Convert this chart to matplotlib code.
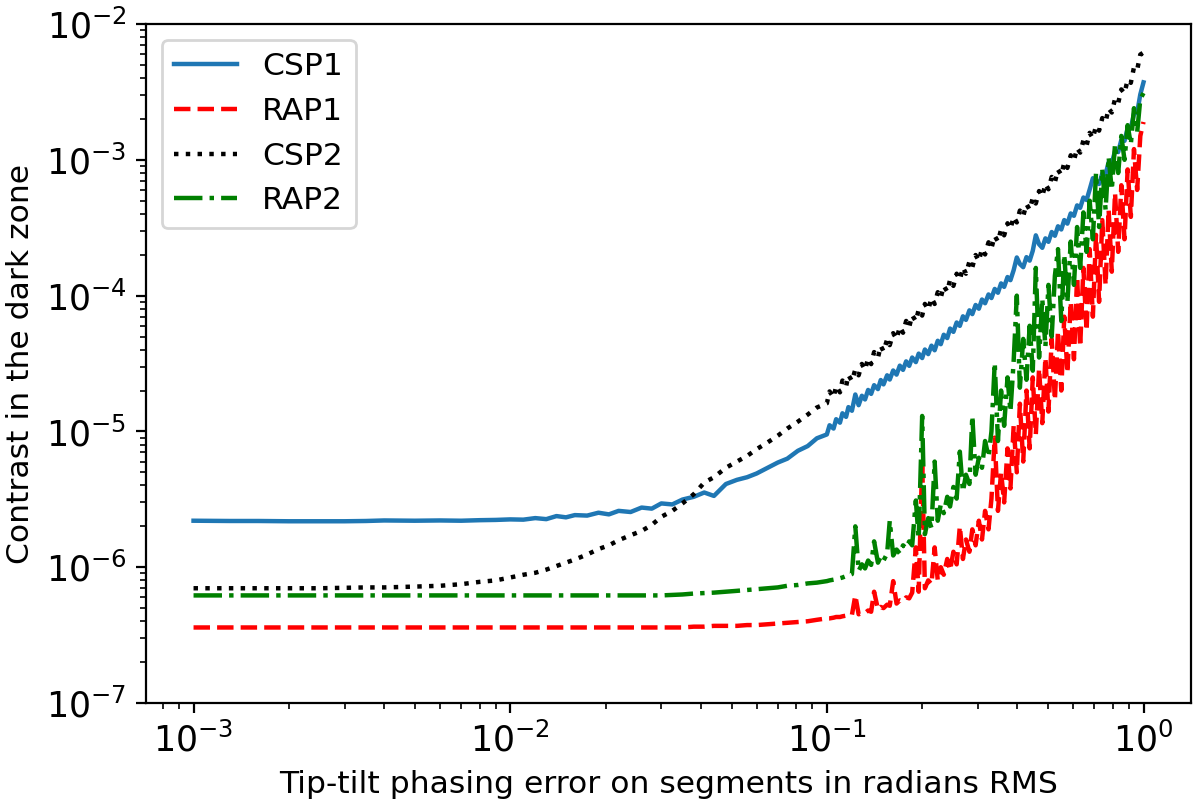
import matplotlib.pyplot as plt

# tip-tilt error (radians RMS), low part: the curves are nearly flat here
x_flat = [0.001, 0.0013, 0.0016, 0.002, 0.0025, 0.003, 0.0035, 0.004, 0.005, 0.006,
          0.007, 0.008, 0.009, 0.010, 0.011, 0.012, 0.013, 0.014, 0.015, 0.016,
          0.0175, 0.019, 0.0205, 0.022, 0.024, 0.026, 0.028, 0.030, 0.0325, 0.035,
          0.038, 0.041, 0.044, 0.048, 0.052, 0.056, 0.060, 0.065, 0.070, 0.075,
          0.081, 0.087, 0.093]
# high part, sampled finer because the curves get noisy
x_steep = [0.100, 0.102, 0.105, 0.107, 0.110, 0.112, 0.115, 0.117, 0.120, 0.123,
           0.126, 0.129, 0.132, 0.135, 0.138, 0.141, 0.145, 0.148, 0.151, 0.155,
           0.158, 0.162, 0.166, 0.170, 0.174, 0.178, 0.182, 0.186, 0.191, 0.195,
           0.200, 0.204, 0.209, 0.214, 0.219, 0.224, 0.229, 0.234, 0.240, 0.245,
           0.251, 0.257, 0.263, 0.269, 0.275, 0.282, 0.288, 0.295, 0.302, 0.309,
           0.316, 0.324, 0.331, 0.339, 0.347, 0.355, 0.363, 0.372, 0.380, 0.389,
           0.398, 0.407, 0.417, 0.427, 0.437, 0.447, 0.457, 0.468, 0.479, 0.490,
           0.501, 0.513, 0.525, 0.537, 0.550, 0.562, 0.575, 0.589, 0.603, 0.617,
           0.631, 0.646, 0.661, 0.676, 0.692, 0.708, 0.724, 0.741, 0.759, 0.776,
           0.794, 0.813, 0.832, 0.851, 0.871, 0.891, 0.912, 0.933, 0.955, 0.977,
           1.000]

# contrast in the dark zone
csp1_flat = [2.20e-6, 2.19e-6, 2.19e-6, 2.18e-6, 2.18e-6, 2.18e-6, 2.19e-6, 2.21e-6, 2.20e-6, 2.21e-6,
             2.20e-6, 2.22e-6, 2.23e-6, 2.25e-6, 2.24e-6, 2.30e-6, 2.26e-6, 2.38e-6, 2.33e-6, 2.42e-6,
             2.40e-6, 2.52e-6, 2.45e-6, 2.60e-6, 2.55e-6, 2.75e-6, 2.70e-6, 2.95e-6, 2.90e-6, 3.15e-6,
             3.30e-6, 3.55e-6, 3.35e-6, 4.10e-6, 4.40e-6, 4.60e-6, 4.90e-6, 5.40e-6, 5.90e-6, 6.30e-6,
             7.20e-6, 7.80e-6, 8.90e-6]
csp1_steep = [9.5e-6, 1.11e-5, 1.05e-5, 1.23e-5, 1.16e-5, 1.36e-5, 1.28e-5, 1.51e-5, 1.42e-5, 1.87e-5,
              1.56e-5, 1.83e-5, 1.72e-5, 2.02e-5, 1.89e-5, 2.19e-5, 2.05e-5, 2.39e-5, 2.22e-5, 2.59e-5,
              2.41e-5, 2.81e-5, 2.62e-5, 3.05e-5, 2.84e-5, 3.28e-5, 3.04e-5, 3.50e-5, 3.24e-5, 3.74e-5,
              3.47e-5, 4.01e-5, 3.71e-5, 4.28e-5, 3.96e-5, 4.65e-5, 4.39e-5, 5.15e-5, 4.87e-5, 5.72e-5,
              5.41e-5, 6.34e-5, 5.99e-5, 7.04e-5, 6.63e-5, 7.79e-5, 7.31e-5, 8.53e-5, 8.01e-5, 9.36e-5,
              8.79e-5, 1.02e-4, 9.60e-5, 1.12e-4, 1.05e-4, 1.23e-4, 1.16e-4, 1.37e-4, 1.30e-4, 1.54e-4,
              1.91e-4, 1.71e-4, 1.62e-4, 1.92e-4, 1.81e-4, 2.14e-4, 2.78e-4, 2.39e-4, 2.25e-4, 2.64e-4,
              2.49e-4, 2.94e-4, 2.76e-4, 3.24e-4, 3.07e-4, 3.60e-4, 3.39e-4, 4.03e-4, 3.87e-4, 4.62e-4,
              4.43e-4, 5.28e-4, 5.06e-4, 6.04e-4, 7.32e-4, 6.91e-4, 6.63e-4, 7.93e-4, 7.81e-4, 9.58e-4,
              9.43e-4, 1.16e-3, 1.14e-3, 1.40e-3, 1.38e-3, 1.70e-3, 1.71e-3, 2.18e-3, 2.23e-3, 3.03e-3,
              3.72e-3]

rap1_flat = [3.6e-7, 3.6e-7, 3.6e-7, 3.6e-7, 3.6e-7, 3.6e-7, 3.6e-7, 3.6e-7, 3.6e-7, 3.6e-7,
             3.6e-7, 3.6e-7, 3.6e-7, 3.6e-7, 3.6e-7, 3.6e-7, 3.6e-7, 3.6e-7, 3.6e-7, 3.6e-7,
             3.6e-7, 3.6e-7, 3.6e-7, 3.6e-7, 3.6e-7, 3.6e-7, 3.6e-7, 3.6e-7, 3.6e-7, 3.6e-7,
             3.65e-7, 3.65e-7, 3.7e-7, 3.7e-7, 3.7e-7, 3.75e-7, 3.75e-7, 3.8e-7, 3.85e-7, 3.9e-7,
             3.95e-7, 4.0e-7, 4.1e-7]
rap1_steep = [4.2e-7, 4.2e-7, 4.25e-7, 4.3e-7, 4.3e-7, 4.35e-7, 4.4e-7, 4.4e-7, 4.45e-7, 6.2e-7,
              4.5e-7, 4.6e-7, 4.6e-7, 4.8e-7, 4.7e-7, 6.6e-7, 4.9e-7, 5.1e-7, 5.0e-7, 5.3e-7,
              5.2e-7, 7.9e-7, 5.4e-7, 5.7e-7, 5.6e-7, 6.0e-7, 5.9e-7, 6.5e-7, 1.4e-6, 6.6e-7,
              6.0e-6, 7.0e-7, 8.0e-7, 7.5e-7, 1.4e-6, 8.0e-7, 1.0e-6, 8.8e-7, 1.15e-6, 9.5e-7,
              1.3e-6, 1.05e-6, 2.0e-6, 1.15e-6, 1.6e-6, 1.3e-6, 1.9e-6, 1.45e-6, 2.2e-6, 1.6e-6,
              2.6e-6, 1.9e-6, 3.2e-6, 9.0e-6, 2.6e-6, 5.0e-6, 3.0e-6, 7.5e-6, 3.8e-6, 1.1e-5,
              5.0e-6, 1.6e-5, 6.0e-6, 2.0e-5, 7.5e-6, 2.5e-5, 9.5e-6, 2.9e-5, 1.15e-5, 3.5e-5,
              1.4e-5, 4.8e-5, 1.7e-5, 5.5e-5, 2.0e-5, 7.0e-5, 2.7e-5, 9.0e-5, 3.4e-5, 1.38e-4,
              4.2e-5, 1.6e-4, 5.5e-5, 2.2e-4, 7.0e-5, 2.8e-4, 9.0e-5, 3.6e-4, 1.2e-4, 4.3e-4,
              1.5e-4, 5.7e-4, 2.1e-4, 6.5e-4, 2.6e-4, 8.5e-4, 3.8e-4, 1.2e-3, 6.0e-4, 1.5e-3,
              1.9e-3]

csp2_flat = [7.0e-7, 7.0e-7, 7.0e-7, 7.0e-7, 7.0e-7, 7.05e-7, 7.1e-7, 7.1e-7, 7.2e-7, 7.3e-7,
             7.5e-7, 7.8e-7, 8.0e-7, 8.4e-7, 8.8e-7, 9.1e-7, 9.6e-7, 1.02e-6, 1.08e-6, 1.14e-6,
             1.24e-6, 1.36e-6, 1.45e-6, 1.58e-6, 1.72e-6, 1.85e-6, 2.05e-6, 2.35e-6, 2.60e-6, 2.95e-6,
             3.45e-6, 4.20e-6, 4.60e-6, 5.40e-6, 6.00e-6, 6.60e-6, 7.40e-6, 8.30e-6, 9.30e-6, 1.05e-5,
             1.18e-5, 1.33e-5, 1.50e-5]
csp2_steep = [1.61e-5, 1.97e-5, 1.78e-5, 2.16e-5, 1.94e-5, 2.37e-5, 2.14e-5, 2.60e-5, 2.35e-5, 2.86e-5,
              2.59e-5, 3.14e-5, 2.84e-5, 3.46e-5, 3.13e-5, 3.84e-5, 3.49e-5, 4.27e-5, 3.89e-5, 4.76e-5,
              4.32e-5, 5.29e-5, 4.80e-5, 5.89e-5, 5.33e-5, 6.51e-5, 5.88e-5, 7.17e-5, 6.48e-5, 7.89e-5,
              7.13e-5, 8.69e-5, 7.88e-5, 9.60e-5, 8.68e-5, 1.06e-4, 9.67e-5, 1.18e-4, 1.07e-4, 1.31e-4,
              1.18e-4, 1.45e-4, 1.31e-4, 1.61e-4, 1.45e-4, 1.78e-4, 1.62e-4, 1.99e-4, 1.80e-4, 2.21e-4,
              2.01e-4, 2.47e-4, 2.24e-4, 2.75e-4, 2.50e-4, 3.07e-4, 2.78e-4, 3.41e-4, 3.10e-4, 3.80e-4,
              3.46e-4, 4.23e-4, 3.85e-4, 4.72e-4, 4.29e-4, 5.25e-4, 4.77e-4, 5.89e-4, 5.38e-4, 6.64e-4,
              6.07e-4, 7.48e-4, 6.84e-4, 8.46e-4, 7.74e-4, 9.54e-4, 8.72e-4, 1.08e-3, 9.86e-4, 1.22e-3,
              1.13e-3, 1.39e-3, 1.27e-3, 1.58e-3, 1.44e-3, 1.78e-3, 1.64e-3, 2.03e-3, 1.90e-3, 2.39e-3,
              2.23e-3, 2.81e-3, 2.62e-3, 3.30e-3, 3.09e-3, 3.89e-3, 3.69e-3, 4.80e-3, 4.60e-3, 5.96e-3,
              6.17e-3]

rap2_flat = [6.2e-7, 6.2e-7, 6.2e-7, 6.2e-7, 6.2e-7, 6.2e-7, 6.2e-7, 6.2e-7, 6.2e-7, 6.2e-7,
             6.2e-7, 6.2e-7, 6.2e-7, 6.2e-7, 6.2e-7, 6.2e-7, 6.2e-7, 6.2e-7, 6.2e-7, 6.2e-7,
             6.2e-7, 6.2e-7, 6.2e-7, 6.2e-7, 6.2e-7, 6.2e-7, 6.2e-7, 6.2e-7, 6.25e-7, 6.3e-7,
             6.4e-7, 6.45e-7, 6.5e-7, 6.6e-7, 6.7e-7, 6.8e-7, 6.9e-7, 7.0e-7, 7.1e-7, 7.3e-7,
             7.4e-7, 7.6e-7, 7.7e-7]
rap2_steep = [7.9e-7, 8.0e-7, 8.1e-7, 8.2e-7, 8.3e-7, 8.4e-7, 8.6e-7, 8.7e-7, 8.9e-7, 2.0e-6,
              9.4e-7, 1.05e-6, 9.8e-7, 1.12e-6, 1.04e-6, 1.55e-6, 1.08e-6, 1.20e-6, 1.12e-6, 1.26e-6,
              2.2e-6, 1.22e-6, 1.35e-6, 1.26e-6, 1.45e-6, 1.38e-6, 1.55e-6, 1.45e-6, 3.1e-6, 1.62e-6,
              1.3e-5, 1.75e-6, 2.3e-6, 1.95e-6, 6.0e-6, 2.2e-6, 2.9e-6, 2.5e-6, 3.3e-6, 2.8e-6,
              3.9e-6, 3.2e-6, 7.1e-6, 3.6e-6, 4.8e-6, 4.1e-6, 1.3e-5, 4.8e-6, 6.4e-6, 5.4e-6,
              8.5e-6, 6.5e-6, 1.0e-5, 3.2e-5, 8.5e-6, 2.0e-5, 1.1e-5, 2.5e-5, 1.4e-5, 3.3e-5,
              1.0e-4, 2.1e-5, 4.8e-5, 2.4e-5, 6.0e-5, 2.8e-5, 1.6e-4, 3.5e-5, 9.5e-5, 4.2e-5,
              1.2e-4, 5.0e-5, 1.4e-4, 2.2e-4, 6.5e-5, 2.0e-4, 8.9e-5, 2.5e-4, 1.2e-4, 3.2e-4,
              1.6e-4, 4.1e-4, 2.1e-4, 5.0e-4, 2.6e-4, 8.0e-4, 3.2e-4, 8.5e-4, 4.3e-4, 1.05e-3,
              6.0e-4, 1.3e-3, 8.0e-4, 1.5e-3, 1.0e-3, 1.8e-3, 1.3e-3, 2.4e-3, 1.6e-3, 2.8e-3,
              3.1e-3]

err = x_flat + x_steep

fig, ax = plt.subplots(figsize=(6, 4.045), dpi=200)
fig.subplots_adjust(left=0.1217, right=0.9925, top=0.9703, bottom=0.131)

ax.plot(err, csp1_flat + csp1_steep, color='#1f77b4', lw=1.6, label='CSP1')
ax.plot(err, rap1_flat + rap1_steep, 'r--', lw=1.6, label='RAP1')
ax.plot(err, csp2_flat + csp2_steep, 'k:', lw=1.6, label='CSP2')
ax.plot(err, rap2_flat + rap2_steep, 'g-.', lw=1.6, label='RAP2')

ax.set_xscale('log')
ax.set_yscale('log')
ax.set_ylim(1e-7, 1e-2)
ax.tick_params(labelsize=12.5)
ax.set_xlabel('Tip-tilt phasing error on segments in radians RMS', fontsize=11.3)
ax.set_ylabel('Contrast in the dark zone', fontsize=11.3)
ax.legend(loc='upper left', fontsize=11.3)

fig.savefig('out.png')
